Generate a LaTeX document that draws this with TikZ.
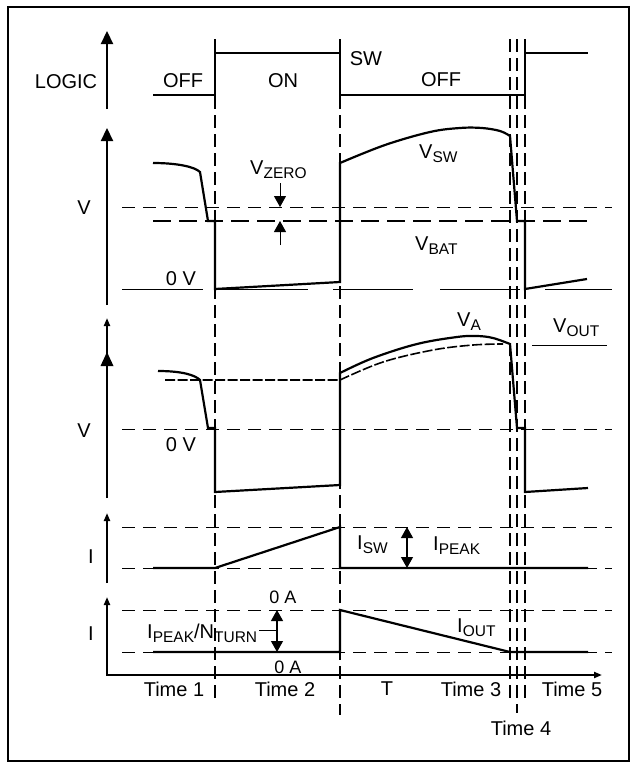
\documentclass[tikz,border=0pt]{standalone}
\usepackage{fontspec}
\setmainfont{Liberation Sans}
\usetikzlibrary{arrows.meta}
\newcommand{\subtx}[1]{\raisebox{-4.5pt}{\fontsize{15.5}{16}\selectfont #1}}
\tikzset{
  wave/.style={line width=2.2pt},
  axisline/.style={line width=2.2pt},
  thindash/.style={line width=0.9pt, dash pattern=on 13pt off 8pt},
  timedash/.style={line width=1.1pt, dash pattern=on 13pt off 6pt},
  vbatdash/.style={line width=2.2pt, dash pattern=on 18pt off 8pt},
  voutdash/.style={line width=1.6pt, dash pattern=on 10pt off 2.5pt},
  thinsolid/.style={line width=1pt},
  lbl/.style={font=\fontsize{20}{24}\selectfont, inner sep=0pt, anchor=base},
  lblw/.style={font=\fontsize{20}{24}\selectfont, inner sep=0pt, anchor=base west},
  smalllbl/.style={font=\fontsize{18}{22}\selectfont, inner sep=0pt, anchor=base},
  bigtip/.tip={Triangle[length=13pt,width=12pt]},
  midtip/.tip={Triangle[length=11pt,width=12pt]},
  smalltip/.tip={Triangle[length=8pt,width=6pt]},
}
\begin{document}
\begin{tikzpicture}[x=1pt,y=-1pt]
\useasboundingbox (0,0) rectangle (631,763);
% frame
\draw[line width=2pt] (8,7) rectangle (629,761);

% time markers
\draw[timedash] (215,39) -- (215,700);
\draw[timedash] (340,39) -- (340,715);
\draw[timedash] (510,39) -- (510,703);
\draw[timedash] (517,39) -- (517,713);
\draw[timedash] (525,39) -- (525,703);

% ---------- LOGIC panel ----------
\draw[axisline,-bigtip] (107,109) -- (107,31);
\node[lbl] (logic) at (66,88) {LOGIC};
\draw[wave] (153,95) -- (215,95) -- (215,53) -- (340,53) -- (340,95) -- (525,95) -- (525,53) -- (588,53);
\node[lbl] (off1) at (183,87) {OFF};
\node[lbl] (on) at (283,87) {ON};
\node[lbl] (sw) at (366,65) {SW};
\node[lbl] (off2) at (441,86) {OFF};

% ---------- V_SW panel ----------
\draw[axisline,-bigtip] (107,305) -- (107,128);
\node[lbl] (v1) at (84,214) {V};
\draw[thindash] (122,207) -- (612,207);
\draw[vbatdash] (153,221) -- (590,221);
\draw[thinsolid] (122,289) -- (203,289);
\draw[thinsolid] (215,289) -- (308,289);
\draw[thinsolid] (333,289) -- (413,289);
\draw[thinsolid] (440,289) -- (520,289);
\draw[thinsolid] (545,289) -- (612,289);
\node[lbl] (zv1) at (181,285) {0 V};
\draw[wave] (153,163) .. controls (178,163) and (195,167) .. (200,172) -- (208,221) -- (215,221) -- (215,289) -- (340,282) -- (340,163)
  -- plot[smooth, tension=0.6] coordinates {(340,163) (385,145) (430,132) (460,128) (482,128) (500,131) (510,136)}
  -- (517,221) -- (525,221) -- (525,289) -- (587,279);
\node[lblw] (vzero) at (250,174) {V\subtx{ZERO}};
\node[lblw] (vsw) at (419,158) {V\subtx{SW}};
\node[lblw] (vbat) at (415,250) {V\subtx{BAT}};
\coordinate (zt1) at (280,183);
\coordinate (zh1) at (280,207);
\coordinate (zt2) at (280,245);
\coordinate (zh2) at (280,221);
\draw[thinsolid,-midtip] (zt1) -- (zh1);
\draw[thinsolid,-midtip] (zt2) -- (zh2);

% ---------- V_A panel ----------
\draw[axisline,-smalltip] (107,498) -- (107,318);
\fill (100.5,366) -- (107,352) -- (113.5,366) -- cycle;
\node[lbl] (v2) at (84,437) {V};
\draw[thindash] (122,429) -- (612,429);
\node[lbl] (zv2) at (181,451) {0 V};
\draw[voutdash] (165,380) -- (340,380)
  -- plot[smooth, tension=0.6] coordinates {(340,380) (383,362) (433,350) (473,345) (503,344)};
\draw[wave] (158,371) .. controls (182,371) and (195,375) .. (200,380) -- (208,428) -- (215,428) -- (215,492) -- (340,485) -- (340,373)
  -- plot[smooth, tension=0.6] coordinates {(340,373) (373,358) (417,344) (457,337) (477,336) (493,338) (510,344)}
  -- (517,428) -- (525,428) -- (525,492) -- (588,488);
\node[lblw] (va) at (457,326) {V\subtx{A}};
\node[lblw] (vout) at (553,332) {V\subtx{OUT}};
\draw[thinsolid] (532,345) -- (607,345);

% ---------- I_SW panel ----------
\draw[axisline,-smalltip] (107,583) -- (107,513);
\node[lbl] (i3) at (91,563) {I};
\draw[thindash] (122,527) -- (612,527);
\draw[thindash] (122,568) -- (612,568);
\draw[wave] (153,568) -- (215,568) -- (340,527) -- (340,568) -- (588,568);
\node[lblw] (isw) at (357,549) {I\subtx{SW}};
\node[lblw] (ipeak) at (433,550) {I\subtx{PEAK}};
\coordinate (pk1) at (407,527);
\coordinate (pk2) at (407,568);
\draw[line width=1.2pt,midtip-midtip] (pk1) -- (pk2);

% ---------- I_OUT panel ----------
\draw[line width=2pt,smalltip-smalltip] (107,597) -- (107,675) -- (602,675);
\node[lbl] (i4) at (91,640) {I};
\draw[thindash] (122,610) -- (612,610);
\draw[thindash] (122,652) -- (612,652);
\draw[wave] (153,652) -- (340,652) -- (340,610) -- (510,652) -- (588,652);
\node[lblw] (iout) at (457,632) {I\subtx{OUT}};
\node[lblw] (ipn) at (147,638) {I\subtx{PEAK}/N\subtx{TURN}};
\coordinate (pn1) at (277,610);
\coordinate (pn2) at (277,652);
\coordinate (lead) at (259,630);
\draw[line width=1.2pt,midtip-midtip] (pn1) -- (pn2);
\draw[thinsolid] (lead) -- (277,630);
\node[smalllbl] (za1) at (283,603) {0 A};
\node[smalllbl] (za2) at (288,673) {0 A};

% ---------- time labels ----------
\node[lbl] (t1) at (174,696) {Time 1};
\node[lbl] (t2) at (285,696) {Time 2};
\node[lbl] (tt) at (387,695) {T};
\node[lbl] (t3) at (471,696) {Time 3};
\node[lbl] (t5) at (572,696) {Time 5};
\node[lbl] (t4) at (521,735) {Time 4};
\end{tikzpicture}
\end{document}
